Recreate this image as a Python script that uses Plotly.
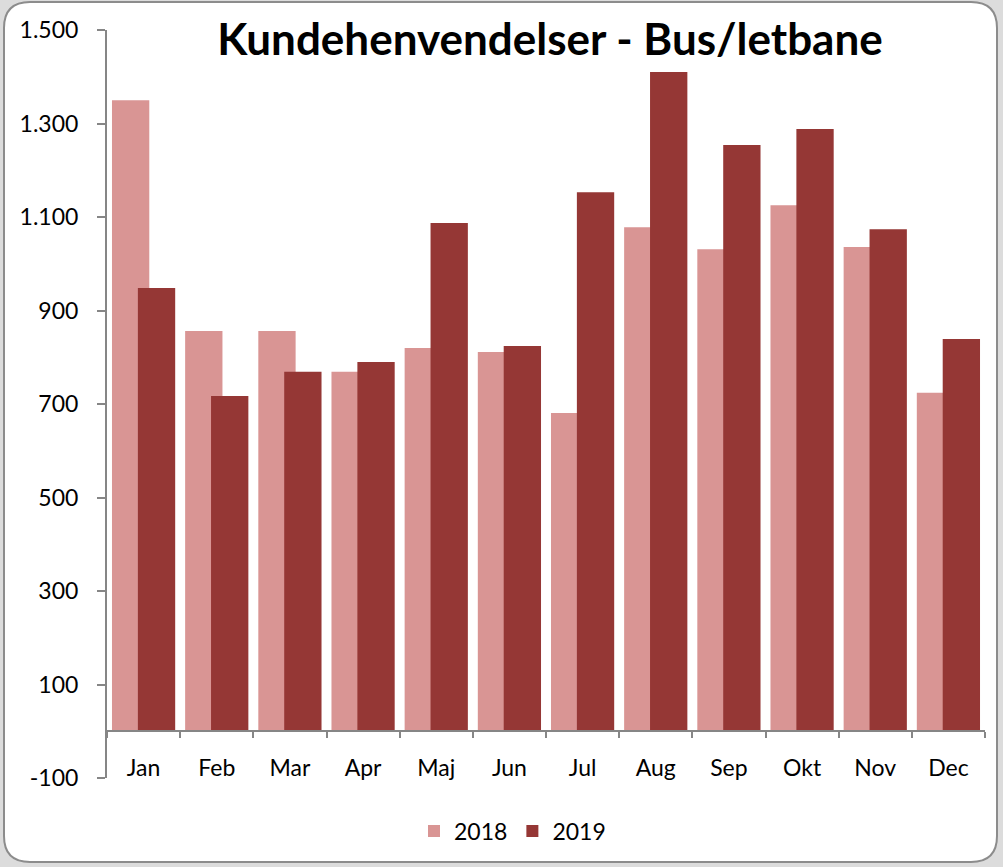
import plotly.graph_objects as go

months = ["Jan", "Feb", "Mar", "Apr", "Maj", "Jun", "Jul", "Aug", "Sep", "Okt", "Nov", "Dec"]
v2018 = [1350, 856, 856, 769, 820, 811, 681, 1078, 1031, 1125, 1036, 724]
v2019 = [948, 717, 769, 790, 1087, 824, 1153, 1410, 1254, 1288, 1074, 839]
y_ticks = [-100, 100, 300, 500, 700, 900, 1100, 1300, 1500]
y_labels = [f"{v:,}".replace(",", ".") for v in y_ticks]

c2018 = "#D99594"
c2019 = "#953735"
FONT = "Lato"

W, H = 1003, 867
L, R, T, B = 107, 18, 30, 89
pw, ph = W - L - R, H - T - B

fig = go.Figure()
fig.add_trace(go.Bar(x=months, y=v2018, name="2018", marker=dict(color=c2018, line_width=0),
                     width=0.51, offset=-0.432))
fig.add_trace(go.Bar(x=months, y=v2019, name="2019", marker=dict(color=c2019, line_width=0),
                     width=0.51, offset=-0.078))

# rounded frame in paper coords
x0 = (4 - L) / pw
x1 = (997 - L) / pw
y1 = 1 + (T - 2) / ph
y0 = -(862 - (H - B)) / ph
rx = 26 / pw
ry = 26 / ph
path = (f"M {x0+rx},{y1} L {x1-rx},{y1} Q {x1},{y1} {x1},{y1-ry} "
        f"L {x1},{y0+ry} Q {x1},{y0} {x1-rx},{y0} L {x0+rx},{y0} "
        f"Q {x0},{y0} {x0},{y0+ry} L {x0},{y1-ry} Q {x0},{y1} {x0+rx},{y1} Z")
fig.add_shape(type="path", path=path, xref="paper", yref="paper", layer="below",
              fillcolor="white", line=dict(color="#8c8c8c", width=2))

fig.update_layout(
    width=W, height=H,
    margin=dict(l=L, r=R, t=T, b=B),
    paper_bgcolor="#dcdcdc",
    plot_bgcolor="rgba(0,0,0,0)",
    barmode="overlay",
    font=dict(family=FONT, color="black", size=23),
    title=dict(text="<b>Kundehenvendelser - Bus/letbane</b>", x=550 / W, xanchor="center",
               y=1 - 40 / H, yanchor="middle", yref="container",
               font=dict(family=FONT, size=44, color="black")),
    legend=dict(orientation="h", x=(414 - L) / pw, xanchor="left", y=-(831 - (H - B)) / ph,
                yanchor="middle", font=dict(size=23), itemwidth=30,
                bgcolor="rgba(0,0,0,0)"),
    showlegend=True,
)
fig.update_yaxes(range=[-100, 1500], tickvals=y_ticks, ticktext=y_labels,
                 showgrid=False, zeroline=False, showline=True, linecolor="#868686",
                 linewidth=2, ticks="outside", ticklen=8, tickcolor="#868686", tickwidth=2,
                 ticklabelstandoff=14, tickfont=dict(size=23))
fig.update_xaxes(anchor="free", position=100 / 1600, showline=True, linecolor="#868686",
                 linewidth=2, ticks="outside", tickson="boundaries", ticklen=6,
                 tickcolor="#868686", tickwidth=2, showgrid=False, ticklabelstandoff=16,
                 tickfont=dict(size=23), range=[-0.5, 11.5])

fig.write_html("out.html", config={"displayModeBar": False},
               post_script="document.body.style.margin='0';")
